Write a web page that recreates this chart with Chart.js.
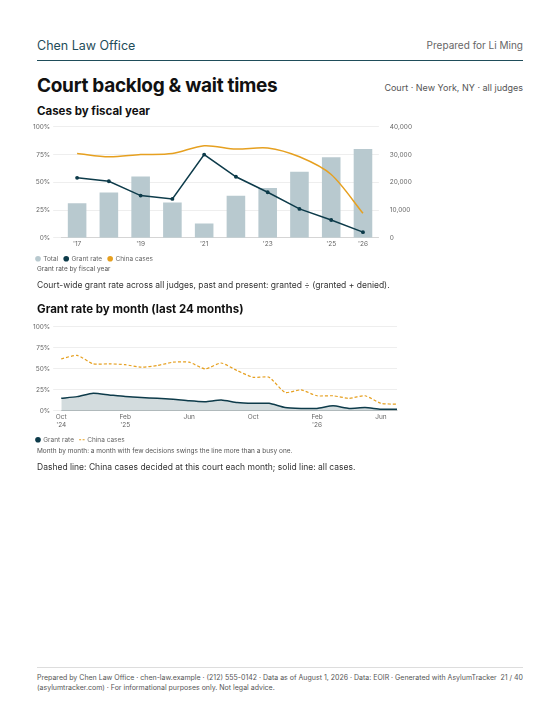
<!DOCTYPE html>
<html><head><meta charset="utf-8">
<script src="https://cdn.jsdelivr.net/npm/chart.js@4"></script>
<style>
body{margin:0;font-family:Inter,sans-serif;color:#111;background:#fff}
.page{position:relative;width:560px;height:725px}
.hdr{position:absolute;left:37px;right:37px;top:38px;height:22px;border-bottom:1px solid #1f4d5a}
.hdr .l{position:absolute;left:0;top:0;font-size:12.5px;color:#1f4d5a}
.hdr .r{position:absolute;right:0;top:1px;font-size:10px;color:#666}
h1{position:absolute;left:37px;top:74px;margin:0;font-size:19px;font-weight:700;letter-spacing:-0.3px}
.sub{position:absolute;right:37px;top:82px;font-size:9px;color:#555}
h2{position:absolute;left:37px;margin:0;font-size:11.5px;font-weight:700}
.cap{position:absolute;left:37px;font-size:6.5px;color:#555}
.note{position:absolute;left:37px;font-size:8.5px;color:#333}
.foot{position:absolute;left:37px;right:37px;top:667px;border-top:1px solid #ddd;padding-top:5px;font-size:7px;color:#555;line-height:10px}
.foot .pg{position:absolute;right:0;top:5px}
</style></head><body><div class="page">
<div class="hdr"><span class="l">Chen Law Office</span><span class="r">Prepared for Li Ming</span></div>
<h1>Court backlog &amp; wait times</h1>
<div class="sub">Court · New York, NY · all judges</div>
<h2 style="top:104px">Cases by fiscal year</h2>
<div style="position:absolute;left:30px;top:120px;width:385px;height:152px"><canvas id="c1"></canvas></div>
<div class="cap" style="top:265px">Grant rate by fiscal year</div>
<div class="note" style="top:280px">Court-wide grant rate across all judges, past and present: granted ÷ (granted + denied).</div>
<h2 style="top:302px">Grant rate by month (last 24 months)</h2>
<div style="position:absolute;left:30px;top:320px;width:375px;height:133px"><canvas id="c2"></canvas></div>
<div class="cap" style="top:447px">Month by month: a month with few decisions swings the line more than a busy one.</div>
<div class="note" style="top:462px">Dashed line: China cases decided at this court each month; solid line: all cases.</div>
<div class="foot">Prepared by Chen Law Office · chen-law.example · (212) 555-0142 · Data as of August 1, 2026 · Data: EOIR · Generated with AsylumTracker<br>(asylumtracker.com) · For informational purposes only. Not legal advice.<span class="pg">21 / 40</span></div>
</div>
<script>
const years = ["'17", "'18", "'19", "'20", "'21", "'22", "'23", "'24", "'25", "'26"];
const totalCases = [12400, 16300, 22100, 12700, 5100, 15100, 17900, 23800, 29000, 32000];
const grantRate = [54, 51, 38, 35, 75, 55, 41, 26, 16, 5];
const chinaRate = [76, 73, 75, 76, 83, 80, 81, 73, 57, 22];

const months = [['Oct',"'24"],'','','',['Feb',"'25"],'','','','Jun','','','','Oct','','','',['Feb',"'26"],'','','','Jun',''];
const monthGrant = [15, 17, 21, 19, 17, 16, 15, 14, 12, 11, 13, 10, 9, 9, 4, 3, 3, 6, 3, 4, 2, 2];
const monthChina = [62, 66, 56, 56, 55, 52, 54, 58, 58, 50, 57, 48, 40, 40, 22, 25, 18, 18, 15, 18, 9, 8];

Chart.defaults.font.family = 'Inter';
Chart.defaults.font.size = 6.5;
Chart.defaults.color = '#666';
const pct = v => v + '%';
const baseLabels = Chart.defaults.plugins.legend.labels.generateLabels;
const legendOpts = (styler) => ({
  position: 'bottom', align: 'start',
  labels: {
    boxWidth: 4, boxHeight: 4, usePointStyle: true, padding: 6, font: {size: 6.5},
    generateLabels: ch => styler(baseLabels(ch))
  }
});
const noTicks = {display: false, drawTicks: false};

new Chart(document.getElementById('c1'), {
  data: {
    labels: years,
    datasets: [
      {type: 'line', label: 'Grant rate', data: grantRate, yAxisID: 'y', borderColor: '#0d3b4a', backgroundColor: '#0d3b4a', borderWidth: 1.5, pointRadius: 1.2, tension: 0, order: 1},
      {type: 'line', label: 'China cases', data: chinaRate, yAxisID: 'y', borderColor: '#e6a020', backgroundColor: '#e6a020', borderWidth: 1.5, pointRadius: 0, tension: 0.3, order: 2},
      {type: 'bar', label: 'Total', data: totalCases, yAxisID: 'y1', backgroundColor: '#b8c9cf', categoryPercentage: 0.65, barPercentage: 0.9, order: 3}
    ]
  },
  options: {
    responsive: true, maintainAspectRatio: false, animation: false,
    plugins: {legend: legendOpts(ls => [ls[2], ls[0], ls[1]].map(l => ({...l, pointStyle: 'circle', lineWidth: 0, strokeStyle: 'transparent'})))},
    scales: {
      x: {grid: noTicks, ticks: {maxRotation: 0, autoSkip: false, padding: 2, callback: (v, i) => (i % 2 === 0 || i === 9) ? years[i] : ''}},
      y: {min: 0, max: 100, ticks: {stepSize: 25, callback: pct}, grid: {color: '#eee'}, border: {display: false}},
      y1: {position: 'right', min: 0, max: 40000, ticks: {stepSize: 10000, callback: v => v.toLocaleString('en-US')}, grid: {display: false}, border: {display: false}}
    }
  }
});

new Chart(document.getElementById('c2'), {
  type: 'line',
  data: {
    labels: months,
    datasets: [
      {label: 'Grant rate', data: monthGrant, borderColor: '#0d3b4a', backgroundColor: 'rgba(13,59,74,0.18)', fill: 'origin', borderWidth: 1.5, pointRadius: 0, tension: 0.2},
      {label: 'China cases', data: monthChina, borderColor: '#e6a020', backgroundColor: '#e6a020', borderDash: [3, 2], borderWidth: 1.2, pointRadius: 0, tension: 0.2}
    ]
  },
  options: {
    responsive: true, maintainAspectRatio: false, animation: false,
    layout: {padding: {right: 8}},
    plugins: {legend: legendOpts(ls => ls.map((l, i) => i
      ? {...l, pointStyle: 'line', lineDash: [2, 1.5], lineWidth: 1, strokeStyle: '#e6a020'}
      : {...l, pointStyle: 'circle', lineWidth: 0, fillStyle: '#0d3b4a', strokeStyle: 'transparent'}))},
    scales: {
      x: {grid: noTicks, ticks: {maxRotation: 0, autoSkip: false, padding: 2}},
      y: {min: 0, max: 100, ticks: {stepSize: 25, callback: pct}, grid: {color: '#eee'}, border: {display: false}}
    }
  }
});
</script></body></html>
